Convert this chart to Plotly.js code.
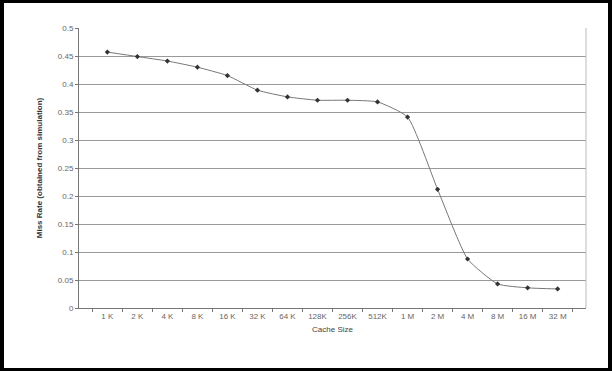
<!DOCTYPE html>
<html><head><meta charset="utf-8">
<script src="https://cdn.plot.ly/plotly-3.0.1.min.js"></script>
<style>
html,body{margin:0;padding:0;background:#fff;}
#wrap{position:relative;width:612px;height:371px;}
#chart{position:absolute;left:0;top:0;width:612px;height:371px;}
#frame{position:absolute;left:0;top:0;width:612px;height:371px;box-sizing:border-box;border:3px solid #000;border-left-width:4px;border-right-width:4px;pointer-events:none;}
</style></head>
<body>
<div id="wrap"><div id="chart"></div><div id="frame"></div></div>
<script>
const cacheSizes = ["1 K","2 K","4 K","8 K","16 K","32 K","64 K","128K","256K","512K","1 M","2 M","4 M","8 M","16 M","32 M"];
const missRate = [0.457,0.449,0.441,0.430,0.415,0.389,0.377,0.371,0.371,0.368,0.341,0.212,0.0875,0.043,0.036,0.034];
const yTicks = [0,0.05,0.1,0.15,0.2,0.25,0.3,0.35,0.4,0.45,0.5];
const yTickText = ["0","0.05","0.1","0.15","0.2","0.25","0.3","0.35","0.4","0.45","0.5"];

const trace = {
  x: cacheSizes, y: missRate, type: 'scatter', mode: 'lines+markers',
  line: {color: '#777', width: 1, shape: 'spline', smoothing: 0.5},
  marker: {symbol: 'diamond', size: 4, color: '#333'}
};
const layout = {
  width: 612, height: 371,
  margin: {l: 79, r: 26, t: 28, b: 63},
  paper_bgcolor: '#fff', plot_bgcolor: '#fff',
  showlegend: false,
  font: {family: 'Liberation Sans, Arial, sans-serif', size: 8, color: '#555'},
  xaxis: {
    type: 'category', tickson: 'boundaries', ticks: 'outside', ticklen: 3, tickcolor: '#777',
    showline: true, linecolor: '#777', linewidth: 1, mirror: false,
    showgrid: false, tickfont: {size: 8, color: '#666'},
    title: {text: 'Cache Size', font: {size: 8, color: '#444'}, standoff: 6}
  },
  yaxis: {
    range: [0, 0.5], tickvals: yTicks, ticktext: yTickText,
    ticks: 'outside', ticklen: 3, tickcolor: '#777',
    showline: true, linecolor: '#777', linewidth: 1,
    showgrid: true, gridcolor: '#999', gridwidth: 1, zeroline: false,
    tickfont: {size: 8, color: '#666'},
    title: {text: '<b>Miss Rate (obtained from simulation)</b>', font: {size: 8, color: '#333'}, standoff: 14}
  },
  shapes: [{type: 'line', xref: 'paper', yref: 'paper', x0: 1, x1: 1, y0: 0, y1: 1, line: {color: '#bbb', width: 1}}]
};
Plotly.newPlot('chart', [trace], layout, {displayModeBar: false, staticPlot: true});
</script>
</body></html>
